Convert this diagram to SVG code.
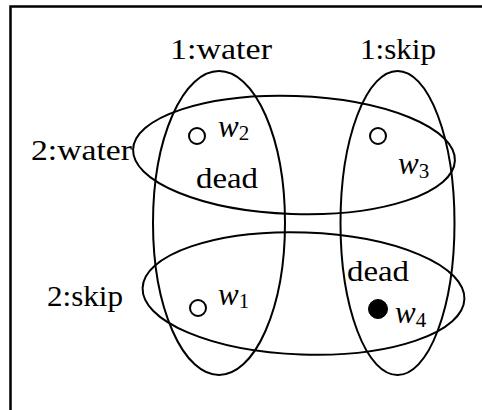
<svg xmlns="http://www.w3.org/2000/svg" width="482" height="410" viewBox="0 0 482 410">
<style>
.frame{fill:none;stroke:#000;stroke-width:2.5}
.set{fill:none;stroke:#000;stroke-width:2}
.lbl{font-family:"Liberation Serif","Times New Roman",serif;font-size:29px;fill:#000}
.var{font-family:"Liberation Serif","Times New Roman",serif;font-style:italic;font-size:31px;fill:#000}
.sub{font-family:"Liberation Serif","Times New Roman",serif;font-size:21px;fill:#000}
.w{fill:#fff;stroke:#000;stroke-width:2}
.wf{fill:#000;stroke:#000;stroke-width:1}
</style>
<rect width="482" height="410" fill="#fff"/>
<path class="frame" d="M10.5 420 V6.5 H490"/>
<g id="sets">
<g id="set-1water"><ellipse class="set" cx="219" cy="223" rx="66" ry="152"/><text class="lbl" x="170" y="59" textLength="102" lengthAdjust="spacingAndGlyphs">1:water</text></g>
<g id="set-1skip"><ellipse class="set" cx="397.5" cy="223" rx="57" ry="152"/><text class="lbl" x="360" y="59" textLength="76" lengthAdjust="spacingAndGlyphs">1:skip</text></g>
<g id="set-2water"><ellipse class="set" cx="294" cy="155" rx="161" ry="59" transform="rotate(2 294 155)"/><text class="lbl" x="31" y="160" textLength="101" lengthAdjust="spacingAndGlyphs">2:water</text></g>
<g id="set-2skip"><ellipse class="set" cx="303.5" cy="293.5" rx="161" ry="61" transform="rotate(2 303.5 293.5)"/><text class="lbl" x="47" y="306" textLength="76" lengthAdjust="spacingAndGlyphs">2:skip</text></g>
</g>
<g id="w2"><circle class="w" cx="197" cy="136" r="8"/><text x="218" y="137"><tspan class="var">w</tspan><tspan class="sub" dy="3">2</tspan></text></g>
<g id="w3"><circle class="w" cx="378" cy="136" r="8"/><text x="398" y="174"><tspan class="var">w</tspan><tspan class="sub" dy="4">3</tspan></text></g>
<g id="w1"><circle class="w" cx="198" cy="308" r="8"/><text x="218" y="305"><tspan class="var">w</tspan><tspan class="sub" dy="3">1</tspan></text></g>
<g id="w4"><circle class="wf" cx="378" cy="309" r="9.5"/><text x="395" y="323"><tspan class="var">w</tspan><tspan class="sub" dy="4">4</tspan></text></g>
<text class="lbl" x="196" y="188" textLength="62" lengthAdjust="spacingAndGlyphs">dead</text>
<text class="lbl" x="347" y="281" textLength="62" lengthAdjust="spacingAndGlyphs">dead</text>
</svg>
